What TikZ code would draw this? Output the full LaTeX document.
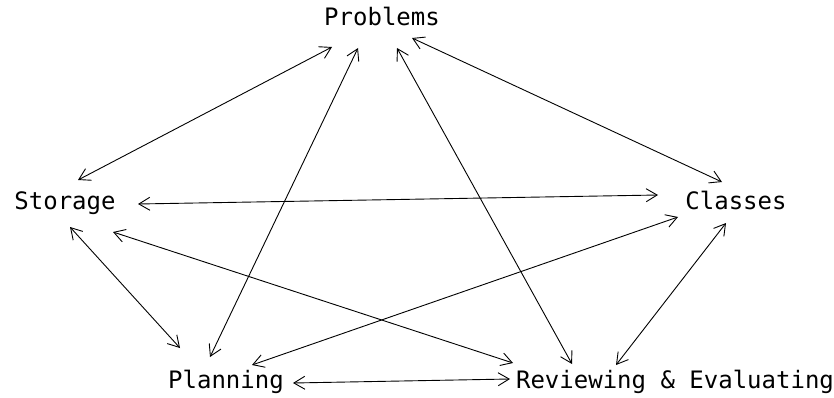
\documentclass[tikz,border=0pt]{standalone}
\usepackage{fontspec}
\newfontfamily\labelfont{DejaVu Sans Mono}
\usetikzlibrary{arrows.meta,calc}
\begin{document}
\begin{tikzpicture}[x=1pt,y=1pt,
  lbl/.style={inner sep=0pt,font=\labelfont\fontsize{24}{26}\selectfont},
  link/.style={line width=0.9pt,{Straight Barb[length=11pt,width=13pt]}-{Straight Barb[length=11pt,width=13pt]}}]
\useasboundingbox[fill=white] (0,0) rectangle (834,397);
\node[lbl] (P) at (382,381) {Problems};
\node[lbl] (S) at (65,194) {Storage};
\node[lbl] (C) at (736,197) {Classes};
\node[lbl] (L) at (226,15) {Planning};
\node[lbl] (R) at (675,15) {Reviewing \& Evaluating};
\draw[link] ($(P)+(-50,-31)$) -- ($(S)+(13,23)$);
\draw[link] ($(P)+(-24,-32)$) -- ($(L)+(-16,25)$);
\draw[link] ($(P)+(15,-32)$) -- ($(R)+(-103,18)$);
\draw[link] ($(P)+(30,-22)$) -- ($(C)+(-14,18)$);
\draw[link] ($(S)+(73,-1)$) -- ($(C)+(-78,5)$);
\draw[link] ($(S)+(5,-24)$) -- ($(L)+(-46,34)$);
\draw[link] ($(S)+(48,-29)$) -- ($(R)+(-162,19)$);
\draw[link] ($(C)+(-58,-17)$) -- ($(L)+(26,17)$);
\draw[link] ($(C)+(-10,-23)$) -- ($(R)+(-59,17)$);
\draw[link] ($(L)+(67,-1)$) -- ($(R)+(-165,3)$);
\end{tikzpicture}
\end{document}
